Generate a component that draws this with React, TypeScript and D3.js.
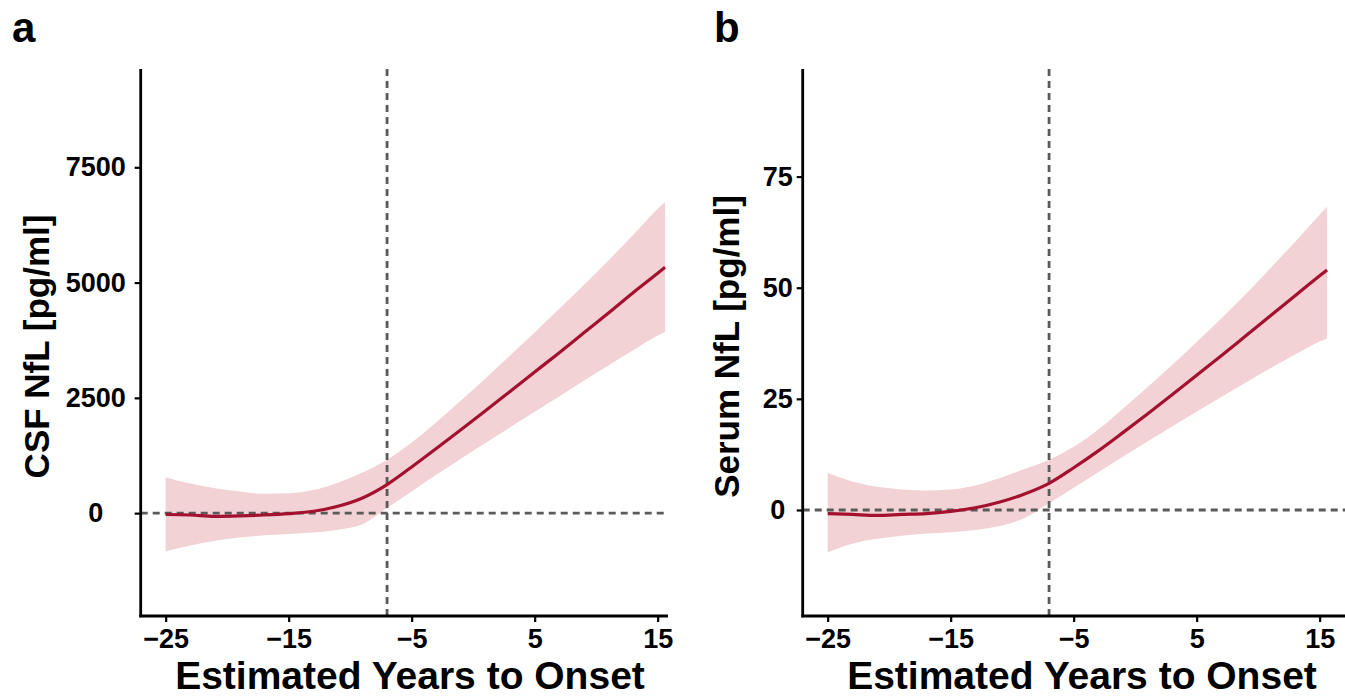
import React, { useRef, useEffect } from "react";
import * as d3 from "d3";

// years to onset (same grid for both panels)
const years = [-25, -23, -21, -19, -17, -15, -13, -11, -9, -7, -5, -3, -1, 1, 3, 5, 7, 9, 11, 13, 15, 15.6];

// CSF NfL [pg/ml]
const csfMean = [-30, -40, -70, -60, -40, -10, 40, 150, 330, 620, 1000, 1400, 1810, 2220, 2640, 3060, 3480, 3910, 4340, 4780, 5200, 5330];
const csfLower = [-830, -700, -600, -530, -480, -450, -420, -360, -240, 110, 470, 830, 1180, 1520, 1860, 2200, 2530, 2870, 3200, 3530, 3850, 3930];
const csfUpper = [780, 640, 540, 470, 420, 430, 500, 660, 880, 1160, 1530, 1970, 2440, 2920, 3420, 3920, 4430, 4950, 5480, 6030, 6600, 6750];

// Serum NfL [pg/ml]
const serumMean = [-0.8, -1, -1.2, -1, -0.8, -0.3, 0.5, 1.8, 3.6, 6.0, 9.5, 13.3, 17.4, 21.6, 25.9, 30.3, 34.7, 39.2, 43.7, 48.2, 52.7, 54];
const serumLower = [-9.5, -7.6, -6.5, -5.8, -5.3, -5, -4.5, -3.6, -1.8, 1.5, 5, 8.5, 12, 15.4, 18.8, 22.1, 25.4, 28.7, 31.9, 35, 37.9, 38.6];
const serumUpper = [8.3, 6.4, 5.2, 4.6, 4.4, 4.6, 5.5, 7.2, 9.2, 11.3, 14.2, 18.1, 22.8, 27.6, 32.6, 37.8, 43.1, 48.6, 54.4, 60.3, 66.4, 68.2];

const xTicks = [-25, -15, -5, 5, 15];
const csfTicks = [0, 2500, 5000, 7500];
const serumTicks = [0, 25, 50, 75];
const onsetLine = -7;

const FONT = "'Liberation Sans', Arial, Helvetica, sans-serif";

const Panel = ({ letter, letterX, yTitle, titleOffset, labelOffset, xTitleX, mean, lower, upper, yDomain, yTicks, left, clipRight }) => {
  const gRef = useRef(null);

  useEffect(() => {
    const top = 69;
    const bottom = 616;
    const pxPerYear = 12.3;
    const x0 = left; // axis position
    const x = d3
      .scaleLinear()
      .domain([-27.03, -27.03 + (clipRight - x0) / pxPerYear])
      .range([x0, clipRight]);
    const y = d3.scaleLinear().domain(yDomain).range([bottom, top]);

    const g = d3.select(gRef.current);
    g.selectAll("*").remove();

    const clipId = `clip-${letter}`;
    g.append("clipPath")
      .attr("id", clipId)
      .append("rect")
      .attr("x", x0)
      .attr("y", top)
      .attr("width", clipRight - x0)
      .attr("height", bottom - top);

    const plot = g.append("g").attr("clip-path", `url(#${clipId})`);
    const rows = years.map((yr, i) => ({ yr, m: mean[i], lo: lower[i], hi: upper[i] }));

    plot
      .append("path")
      .datum(rows)
      .attr("fill", "#f2d2d4")
      .attr(
        "d",
        d3
          .area()
          .x((d) => x(d.yr))
          .y0((d) => y(d.lo))
          .y1((d) => y(d.hi))
          .curve(d3.curveMonotoneX)
      );

    // reference lines
    plot
      .append("line")
      .attr("x1", x0)
      .attr("x2", clipRight)
      .attr("y1", y(0))
      .attr("y2", y(0))
      .attr("stroke", "#5a5a5a")
      .attr("stroke-width", 2.8)
      .attr("stroke-dasharray", "7,5");
    plot
      .append("line")
      .attr("x1", x(onsetLine))
      .attr("x2", x(onsetLine))
      .attr("y1", top)
      .attr("y2", bottom)
      .attr("stroke", "#5a5a5a")
      .attr("stroke-width", 2.8)
      .attr("stroke-dasharray", "7,5");

    plot
      .append("path")
      .datum(rows)
      .attr("fill", "none")
      .attr("stroke", "#a3112e")
      .attr("stroke-width", 3.2)
      .attr(
        "d",
        d3
          .line()
          .x((d) => x(d.yr))
          .y((d) => y(d.m))
          .curve(d3.curveMonotoneX)
      );

    // axes
    const xAxis = g
      .append("g")
      .attr("transform", `translate(0,${bottom})`)
      .call(
        d3
          .axisBottom(x)
          .tickValues(xTicks)
          .tickSize(6)
          .tickPadding(7)
          .tickFormat((d) => (d < 0 ? `\u2212${-d}` : `${d}`))
      );
    const yAxis = g
      .append("g")
      .attr("transform", `translate(${x0},0)`)
      .call(d3.axisLeft(y).tickValues(yTicks).tickSize(6).tickFormat(d3.format("d")));

    [xAxis, yAxis].forEach((a) => {
      a.select(".domain").remove();
      a.selectAll(".tick line").attr("stroke", "#000").attr("stroke-width", 2.2);
      a.selectAll(".tick text")
        .attr("fill", "#000")
        .style("font-family", FONT)
        .style("font-weight", "bold")
        .style("font-size", "27px");
    });
    // y labels are centred on a common column, like the original
    yAxis.selectAll(".tick text").attr("text-anchor", "middle").attr("x", -labelOffset);

    g.append("line")
      .attr("x1", x0)
      .attr("x2", x0)
      .attr("y1", top)
      .attr("y2", bottom + 1.3)
      .attr("stroke", "#000")
      .attr("stroke-width", 2.8);
    g.append("line")
      .attr("x1", x0 - 1.4)
      .attr("x2", clipRight)
      .attr("y1", bottom)
      .attr("y2", bottom)
      .attr("stroke", "#000")
      .attr("stroke-width", 2.8);

    // titles
    g.append("text")
      .attr("x", xTitleX)
      .attr("y", 689)
      .attr("text-anchor", "middle")
      .style("font-family", FONT)
      .style("font-weight", "bold")
      .style("font-size", "39px")
      .text("Estimated Years to Onset");

    g.append("text")
      .attr("transform", `translate(${x0 - titleOffset},${(top + bottom) / 2 + 4}) rotate(-90)`)
      .attr("text-anchor", "middle")
      .style("font-family", FONT)
      .style("font-weight", "bold")
      .style("font-size", "35px")
      .text(yTitle);

    g.append("text")
      .attr("x", letterX)
      .attr("y", 42)
      .style("font-family", FONT)
      .style("font-weight", "bold")
      .style("font-size", "42px")
      .text(letter);
  }, [letter, letterX, yTitle, titleOffset, labelOffset, xTitleX, mean, lower, upper, yDomain, yTicks, left, clipRight]);

  return <g ref={gRef} />;
};

export default function App() {
  useEffect(() => {
    document.body.style.margin = "0";
  }, []);

  return (
    <svg width={1345} height={696} style={{ display: "block", background: "#fff" }}>
      <Panel
        letter="a"
        letterX={12}
        yTitle="CSF NfL [pg/ml]"
        titleOffset={92}
        labelOffset={45}
        xTitleX={410}
        mean={csfMean}
        lower={csfLower}
        upper={csfUpper}
        yDomain={[-2231, 9632]}
        yTicks={csfTicks}
        left={140.7}
        clipRight={668}
      />
      <Panel
        letter="b"
        letterX={714}
        yTitle="Serum NfL [pg/ml]"
        titleOffset={64}
        labelOffset={25}
        xTitleX={1082}
        mean={serumMean}
        lower={serumLower}
        upper={serumUpper}
        yDomain={[-23.85, 99.2]}
        yTicks={serumTicks}
        left={802.7}
        clipRight={1345}
      />
    </svg>
  );
}
